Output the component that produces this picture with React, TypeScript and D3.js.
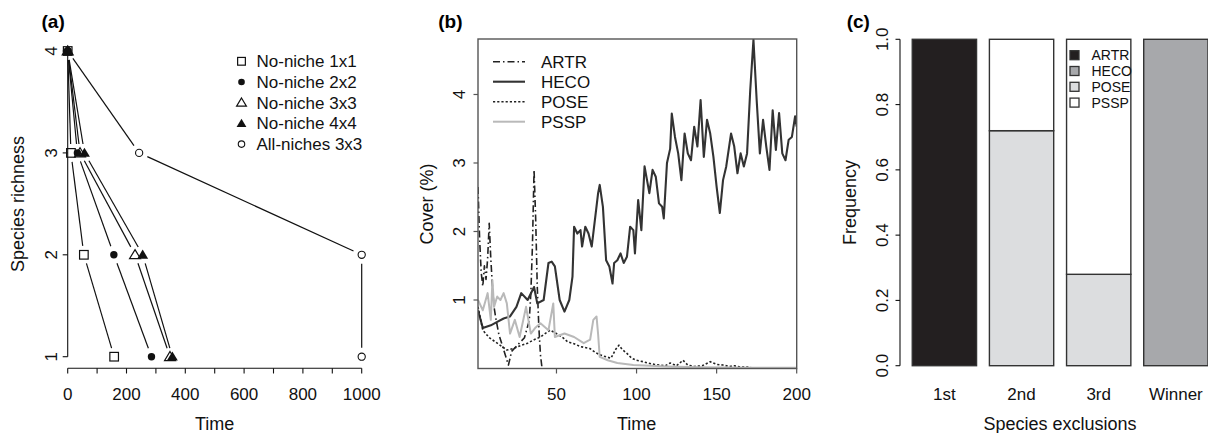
import React from "react";
import * as d3 from "d3";

const FONT = "'Liberation Sans', Arial, Helvetica, sans-serif";

// ---------- Panel (a) data ----------
const richnessLevels = [4, 3, 2, 1];
const timeNoNiche1x1 = [0, 11, 55, 158];
const timeNoNiche2x2 = [0, 33, 157, 285];
const timeNoNiche3x3 = [0, 42, 229, 348];
const timeNoNiche4x4 = [0, 57, 255, 356];
const timeAllNiches3x3 = [0, 243, 1000, 1000];
const seriesNamesA = ["No-niche 1x1", "No-niche 2x2", "No-niche 3x3", "No-niche 4x4", "All-niches 3x3"];
const seriesShapesA = ["square", "dot", "triangleOpen", "triangleFilled", "circleSmall"];
const xTicksA = [0, 100, 200, 300, 400, 500, 600, 700, 800, 900, 1000];
const xTickLabelsA = [0, 200, 400, 600, 800, 1000];
const yTicksA = [1, 2, 3, 4];

// ---------- Panel (b) data: [time, cover %] ----------
const ARTR: [number, number][] = [
  [1, 2.65], [2, 1.9], [3, 1.4], [4, 1.2], [5, 1.5], [6, 1.3], [7, 1.6], [8, 2.12], [9, 1.6], [10, 1.2],
  [11, 0.9], [12, 0.75], [14, 0.5], [16, 0.35], [18, 0.2], [20, 0.05], [22, 0.25], [26, 0.35], [30, 0.45],
  [33, 0.7], [34, 1.1], [35, 1.8], [36, 2.9], [37, 2.2], [38, 1.2], [39, 0.6], [40, 0.2], [41, 0.0],
];
const HECO: [number, number][] = [
  [1, 0.85], [4, 0.59], [9, 0.63], [13, 0.68], [17, 0.73], [21, 0.76], [25, 0.9], [28, 1.1], [32, 1.0],
  [36, 1.19], [38, 0.95], [42, 1.0], [45, 1.54], [47, 1.56], [49, 1.49], [52, 1.0], [55, 0.83], [58, 1.0],
  [60, 1.34], [61, 2.07], [63, 1.97], [65, 2.02], [66, 1.78], [68, 2.07], [70, 1.97], [72, 1.78], [74, 2.17],
  [76, 2.56], [77, 2.68], [79, 2.36], [81, 1.58], [83, 1.49], [85, 1.24], [86, 1.54], [88, 1.58], [90, 1.68],
  [92, 1.54], [94, 1.63], [96, 2.07], [98, 2.02], [99, 1.68], [101, 2.46], [103, 2.02], [105, 2.95],
  [108, 2.56], [110, 2.9], [112, 2.8], [114, 2.41], [116, 2.36], [117, 2.19], [119, 3.0], [121, 3.21],
  [122, 3.72], [124, 3.38], [126, 3.14], [128, 2.75], [130, 3.43], [132, 3.14], [134, 3.04], [136, 3.53],
  [138, 3.24], [140, 3.92], [142, 3.09], [144, 3.63], [146, 3.43], [148, 3.09], [150, 2.65], [152, 2.27],
  [154, 2.75], [156, 2.95], [159, 3.43], [161, 3.24], [163, 2.85], [165, 3.14], [167, 2.95], [169, 3.14],
  [171, 4.07], [173, 4.8], [175, 3.92], [177, 3.14], [179, 3.63], [181, 3.24], [183, 2.9], [185, 3.77],
  [187, 3.19], [189, 3.73], [191, 3.14], [193, 3.04], [195, 3.34], [197, 3.38], [199, 3.68], [200, 3.53],
];
const POSE: [number, number][] = [
  [1, 0.9], [4, 0.56], [8, 0.45], [13, 0.37], [19, 0.27], [23, 0.29], [27, 0.33], [32, 0.37], [36, 0.42],
  [40, 0.46], [46, 0.56], [50, 0.51], [54, 0.45], [57, 0.39], [61, 0.36], [65, 0.32], [71, 0.29], [74, 0.24],
  [77, 0.2], [81, 0.17], [84, 0.15], [87, 0.28], [89, 0.34], [91, 0.28], [94, 0.22], [97, 0.15], [100, 0.12],
  [104, 0.1], [107, 0.08], [111, 0.06], [115, 0.05], [118, 0.04], [121, 0.08], [125, 0.04], [129, 0.12],
  [132, 0.05], [136, 0.03], [141, 0.04], [146, 0.1], [150, 0.06], [154, 0.05], [158, 0.03], [161, 0.04],
  [165, 0.02], [169, 0.02], [175, 0.0], [200, 0.0],
];
const PSSP: [number, number][] = [
  [1, 1.0], [4, 0.85], [7, 1.1], [9, 0.71], [10, 1.29], [11, 0.9], [13, 1.05], [15, 1.0], [17, 1.1],
  [19, 0.95], [21, 0.51], [24, 0.71], [27, 0.46], [31, 0.9], [34, 0.51], [37, 0.6], [40, 0.66], [45, 0.56],
  [48, 0.95], [49, 0.46], [55, 0.51], [61, 0.46], [67, 0.37], [71, 0.42], [73, 0.71], [75, 0.76], [76, 0.5],
  [77, 0.17], [82, 0.12], [88, 0.08], [98, 0.05], [119, 0.03], [140, 0.02], [170, 0.01], [200, 0.01],
];
const speciesB = ["ARTR", "HECO", "POSE", "PSSP"];
const xTicksB = [50, 100, 150, 200];
const yTicksB = [1, 2, 3, 4];

// ---------- Panel (c) data ----------
const exclusionCategories = ["1st", "2nd", "3rd", "Winner"];
const freqARTR = [1.0, 0, 0, 0];
const freqHECO = [0, 0, 0, 1.0];
const freqPOSE = [0, 0.72, 0.28, 0];
const freqPSSP = [0, 0.28, 0.72, 0];
const speciesC = ["ARTR", "HECO", "POSE", "PSSP"];
const colorsC = ["#231f20", "#a7a8ab", "#dcdddf", "#ffffff"];
const yTicksC = [0, 0.2, 0.4, 0.6, 0.8, 1.0];

function Symbol({ shape, x, y, size = 1 }: { shape: string; x: number; y: number; size?: number }) {
  const s = size;
  switch (shape) {
    case "square":
      return <rect x={x - 4.3 * s} y={y - 4.3 * s} width={8.6 * s} height={8.6 * s} fill="none" stroke="#111" strokeWidth={1.2} />;
    case "dot":
      return <circle cx={x} cy={y} r={3.7 * s} fill="#111" />;
    case "triangleOpen": {
      const h = 5.2 * s;
      return <path d={`M${x},${y - h}L${x + h * 1.05},${y + h * 0.75}L${x - h * 1.05},${y + h * 0.75}Z`} fill="none" stroke="#111" strokeWidth={1.2} />;
    }
    case "triangleFilled": {
      const h = 5.2 * s;
      return <path d={`M${x},${y - h}L${x + h * 1.05},${y + h * 0.75}L${x - h * 1.05},${y + h * 0.75}Z`} fill="#111" />;
    }
    default:
      return <circle cx={x} cy={y} r={3.6 * s} fill="none" stroke="#111" strokeWidth={1.1} />;
  }
}

function PanelA() {
  const x = d3.scaleLinear().domain([0, 1000]).range([67.7, 361.7]);
  const y = d3.scaleLinear().domain([1, 4]).range([356.7, 51]);
  const timesList = [timeNoNiche1x1, timeNoNiche2x2, timeNoNiche3x3, timeNoNiche4x4, timeAllNiches3x3];
  const gap = 9;
  const segs: JSX.Element[] = [];
  timesList.forEach((times, si) => {
    for (let i = 0; i < times.length - 1; i++) {
      const x1 = x(times[i]), y1 = y(richnessLevels[i]);
      const x2 = x(times[i + 1]), y2 = y(richnessLevels[i + 1]);
      const L = Math.hypot(x2 - x1, y2 - y1);
      if (L <= 2 * gap) continue;
      const ux = (x2 - x1) / L, uy = (y2 - y1) / L;
      segs.push(
        <line key={`s${si}-${i}`} x1={x1 + ux * gap} y1={y1 + uy * gap} x2={x2 - ux * gap} y2={y2 - uy * gap} stroke="#111" strokeWidth={1.2} />
      );
    }
  });
  return (
    <g>
      <text x={41.5} y={27.5} fontSize={19} fontWeight="bold" fontFamily={FONT}>(a)</text>
      {segs}
      {timesList.map((times, si) =>
        times.map((t, i) => <Symbol key={`p${si}-${i}`} shape={seriesShapesA[si]} x={x(t)} y={y(richnessLevels[i])} />)
      )}
      {/* x axis */}
      <line x1={x(0)} x2={x(1000)} y1={368.3} y2={368.3} stroke="#111" strokeWidth={1.1} />
      {xTicksA.map((t) => (
        <line key={t} x1={x(t)} x2={x(t)} y1={368.3} y2={373.5} stroke="#111" strokeWidth={1.1} />
      ))}
      {xTickLabelsA.map((t) => (
        <text key={t} x={x(t)} y={400} fontSize={17} textAnchor="middle" fontFamily={FONT} fill="#111">{t}</text>
      ))}
      <text x={214.7} y={430} fontSize={18} textAnchor="middle" fontFamily={FONT} fill="#111">Time</text>
      {/* y axis */}
      <line x1={67.7} x2={67.7} y1={y(1)} y2={y(4)} stroke="#111" strokeWidth={1.1} />
      {yTicksA.map((v) => (
        <g key={v}>
          <line x1={62.7} x2={67.7} y1={y(v)} y2={y(v)} stroke="#111" strokeWidth={1.1} />
          <text transform={`translate(57,${y(v)}) rotate(-90)`} fontSize={17} textAnchor="middle" fontFamily={FONT} fill="#111">{v}</text>
        </g>
      ))}
      <text transform={`translate(24,204) rotate(-90)`} fontSize={18} textAnchor="middle" fontFamily={FONT} fill="#111">Species richness</text>
      {/* legend */}
      {seriesNamesA.map((name, i) => {
        const ry = 61.3 + i * 20.7;
        return (
          <g key={name}>
            <Symbol shape={seriesShapesA[i]} x={241.5} y={ry} size={0.9} />
            <text x={256.5} y={ry + 6} fontSize={17} fontFamily={FONT} fill="#111">{name}</text>
          </g>
        );
      })}
    </g>
  );
}

function PanelB() {
  const left = 478, right = 796.7, top = 39, bottom = 368.5;
  const x = d3.scaleLinear().domain([1, 200]).range([left, right]);
  const y = d3.scaleLinear().domain([0, 4.81]).range([bottom, top]);
  const line = d3.line<[number, number]>().x((d) => x(d[0])).y((d) => y(d[1]));
  const styles: Record<string, { stroke: string; w: number; dash?: string }> = {
    ARTR: { stroke: "#222", w: 1.6, dash: "7,3,1.5,3" },
    HECO: { stroke: "#333", w: 2.1 },
    POSE: { stroke: "#222", w: 1.6, dash: "2.2,2" },
    PSSP: { stroke: "#b9b9b9", w: 2 },
  };
  const dataB: Record<string, [number, number][]> = { ARTR, HECO, POSE, PSSP };
  return (
    <g>
      <defs>
        <clipPath id="clipB">
          <rect x={left} y={top} width={right - left} height={bottom - top} />
        </clipPath>
      </defs>
      <text x={438.3} y={27.5} fontSize={19} fontWeight="bold" fontFamily={FONT}>(b)</text>
      <g clipPath="url(#clipB)">
        {speciesB.map((sp) => (
          <path key={sp} d={line(dataB[sp]) || ""} fill="none" stroke={styles[sp].stroke} strokeWidth={styles[sp].w}
            strokeDasharray={styles[sp].dash} strokeLinejoin="round" />
        ))}
      </g>
      <rect x={left} y={top} width={right - left} height={bottom - top} fill="none" stroke="#555" strokeWidth={1.4} />
      {xTicksB.map((t) => (
        <g key={t}>
          <line x1={x(t)} x2={x(t)} y1={bottom} y2={bottom + 5} stroke="#555" strokeWidth={1.2} />
          <text x={x(t)} y={400} fontSize={17} textAnchor="middle" fontFamily={FONT} fill="#111">{t}</text>
        </g>
      ))}
      {yTicksB.map((v) => (
        <g key={v}>
          <line x1={left - 4.5} x2={left} y1={y(v)} y2={y(v)} stroke="#555" strokeWidth={1.2} />
          <text transform={`translate(465,${y(v)}) rotate(-90)`} fontSize={17} textAnchor="middle" fontFamily={FONT} fill="#111">{v}</text>
        </g>
      ))}
      <text x={636.7} y={430} fontSize={18} textAnchor="middle" fontFamily={FONT} fill="#111">Time</text>
      <text transform={`translate(433,204) rotate(-90)`} fontSize={18} textAnchor="middle" fontFamily={FONT} fill="#111">Cover (%)</text>
      {speciesB.map((sp, i) => {
        const ry = 61.7 + i * 20;
        return (
          <g key={sp}>
            <line x1={493} x2={525} y1={ry} y2={ry} stroke={styles[sp].stroke} strokeWidth={styles[sp].w} strokeDasharray={styles[sp].dash} />
            <text x={541} y={ry + 6} fontSize={17} fontFamily={FONT} fill="#111">{sp}</text>
          </g>
        );
      })}
    </g>
  );
}

function PanelC() {
  const x = d3.scaleLinear().domain([0, 4.8]).range([899.4, 1208]);
  const y = d3.scaleLinear().domain([0, 1]).range([365.7, 39.3]);
  const stack = d3.stack<any>().keys(speciesC)(
    exclusionCategories.map((c, i) => ({ cat: c, ARTR: freqARTR[i], HECO: freqHECO[i], POSE: freqPOSE[i], PSSP: freqPSSP[i] }))
  );
  const barLeft = (i: number) => x(0.2 + 1.2 * i);
  const barW = x(1) - x(0);
  return (
    <g>
      <text x={846.7} y={27.5} fontSize={19} fontWeight="bold" fontFamily={FONT}>(c)</text>
      {stack.map((layer, li) =>
        layer.map((d, i) =>
          d[1] - d[0] > 0 ? (
            <rect key={`${li}-${i}`} x={barLeft(i)} y={y(d[1])} width={barW} height={y(d[0]) - y(d[1])}
              fill={colorsC[li]} stroke="#333" strokeWidth={1.4} />
          ) : null
        )
      )}
      <line x1={900} x2={900} y1={y(0)} y2={y(1)} stroke="#111" strokeWidth={1.1} />
      {yTicksC.map((v) => (
        <g key={v}>
          <line x1={895.5} x2={900} y1={y(v)} y2={y(v)} stroke="#111" strokeWidth={1.1} />
          <text transform={`translate(888,${y(v)}) rotate(-90)`} fontSize={17} textAnchor="middle" fontFamily={FONT} fill="#111">{v.toFixed(1)}</text>
        </g>
      ))}
      {exclusionCategories.map((c, i) => (
        <text key={c} x={barLeft(i) + barW / 2} y={400} fontSize={17} textAnchor="middle" fontFamily={FONT} fill="#111">{c}</text>
      ))}
      <text x={1060} y={430} fontSize={18} textAnchor="middle" fontFamily={FONT} fill="#111">Species exclusions</text>
      <text transform={`translate(856,202.5) rotate(-90)`} fontSize={18} textAnchor="middle" fontFamily={FONT} fill="#111">Frequency</text>
      {speciesC.map((sp, i) => {
        const ry = 55.2 + i * 15.8;
        return (
          <g key={sp}>
            <rect x={1070} y={ry - 4.5} width={9} height={9} fill={colorsC[i]} stroke="#333" strokeWidth={1.3} />
            <text x={1091.5} y={ry + 5} fontSize={14} fontFamily={FONT} fill="#111">{sp}</text>
          </g>
        );
      })}
    </g>
  );
}

export default function App() {
  return (
    <svg width={1208} height={433} style={{ position: "absolute", left: 0, top: 0, background: "#fff" }}>
      <rect x={0} y={0} width={1208} height={433} fill="#fff" />
      <PanelA />
      <PanelB />
      <PanelC />
    </svg>
  );
}
